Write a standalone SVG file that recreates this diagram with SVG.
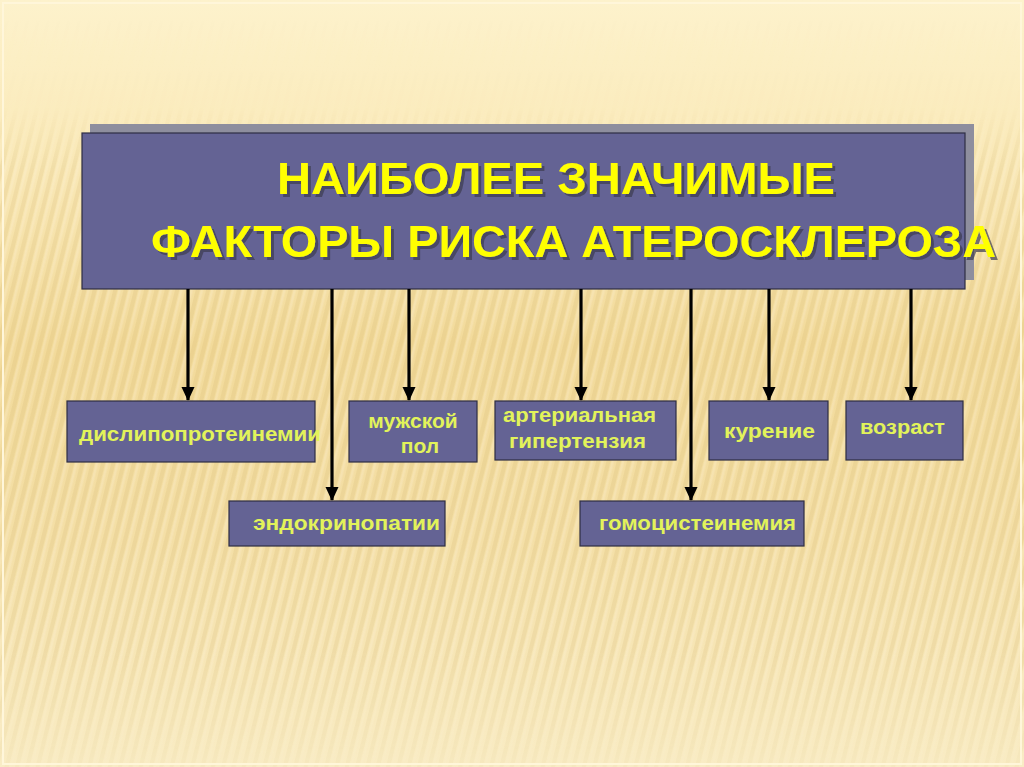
<svg xmlns="http://www.w3.org/2000/svg" width="1024" height="767" viewBox="0 0 1024 767">
<style>
.box{fill:#646394;stroke:#2e2e44;stroke-width:1.2}
.lbl{font-family:"Liberation Sans",Arial,sans-serif;font-weight:bold;font-size:21px;fill:#e2f35a}
.ttl{font-family:"Liberation Sans Narrow","Liberation Sans",Arial,sans-serif;font-weight:bold;font-size:44px;fill:#ffff00;filter:url(#ds)}
.conn line{stroke:#000;stroke-width:3.2}
</style>
<defs>
<filter id="ds" x="-5%" y="-20%" width="110%" height="150%">
<feDropShadow dx="3" dy="3" stdDeviation="0.5" flood-color="#3c3c50" flood-opacity="0.7"/>
</filter>
<linearGradient id="bg" x1="0" y1="0" x2="0" y2="1">
<stop offset="0" stop-color="#fdf2cc"/>
<stop offset="0.15" stop-color="#fbecbe"/>
<stop offset="0.45" stop-color="#f2da9a"/>
<stop offset="0.7" stop-color="#f4dfa6"/>
<stop offset="1" stop-color="#f9ecc4"/>
</linearGradient>
<linearGradient id="fade" x1="0" y1="0" x2="0" y2="1">
<stop offset="0" stop-color="#fff" stop-opacity="0"/>
<stop offset="0.14" stop-color="#fff" stop-opacity="0.05"/>
<stop offset="0.22" stop-color="#fff" stop-opacity="0.8"/>
<stop offset="0.85" stop-color="#fff" stop-opacity="0.8"/>
<stop offset="1" stop-color="#fff" stop-opacity="0.25"/>
</linearGradient>
<pattern id="stripes" width="10" height="10" patternUnits="userSpaceOnUse" patternTransform="rotate(14)">
<rect x="0" y="0" width="4" height="10" fill="#c9a85a" fill-opacity="0.18"/>
<rect x="5" y="0" width="2.5" height="10" fill="#fff8e0" fill-opacity="0.3"/>
</pattern>
<mask id="m"><rect width="1024" height="767" fill="url(#fade)"/></mask>
<marker id="ah" markerWidth="14" markerHeight="14" refX="13" refY="7" orient="auto" markerUnits="userSpaceOnUse" viewBox="0 0 14 14">
<path d="M0,0.5 L14,7 L0,13.5 Z" fill="#000"/>
</marker>
</defs>
<rect width="1024" height="767" fill="url(#bg)"/>
<rect width="1024" height="767" fill="url(#stripes)" mask="url(#m)"/>
<rect x="3" y="3" width="1018" height="761" fill="none" stroke="#fff6da" stroke-width="2"/>

<g id="title">
<rect x="90" y="124" width="884" height="156" fill="#8e8e9e"/>
<rect class="box" x="82" y="133" width="883" height="156"/>
<text class="ttl" x="556" y="194" text-anchor="middle" textLength="558" lengthAdjust="spacingAndGlyphs">НАИБОЛЕЕ  ЗНАЧИМЫЕ</text>
<text class="ttl" x="151" y="257" textLength="845" lengthAdjust="spacingAndGlyphs">ФАКТОРЫ  РИСКА АТЕРОСКЛЕРОЗА</text>
</g>

<g class="conn" id="connectors">
<line x1="188" y1="289" x2="188" y2="400" marker-end="url(#ah)"/>
<line x1="332" y1="289" x2="332" y2="500" marker-end="url(#ah)"/>
<line x1="409" y1="289" x2="409" y2="400" marker-end="url(#ah)"/>
<line x1="581" y1="289" x2="581" y2="400" marker-end="url(#ah)"/>
<line x1="691" y1="289" x2="691" y2="500" marker-end="url(#ah)"/>
<line x1="769" y1="289" x2="769" y2="400" marker-end="url(#ah)"/>
<line x1="911" y1="289" x2="911" y2="400" marker-end="url(#ah)"/>
</g>

<g id="n1">
<rect class="box" x="67" y="401" width="248" height="61"/>
<text class="lbl" x="79" y="441" textLength="242" lengthAdjust="spacingAndGlyphs">дислипопротеинемии</text>
</g>
<g id="n2">
<rect class="box" x="349" y="401" width="128" height="61"/>
<text class="lbl" x="413" y="428" text-anchor="middle">мужской</text>
<text class="lbl" x="420" y="453" text-anchor="middle">пол</text>
</g>
<g id="n3">
<rect class="box" x="495" y="401" width="181" height="59"/>
<text class="lbl" x="503" y="422" textLength="153" lengthAdjust="spacingAndGlyphs">артериальная</text>
<text class="lbl" x="509" y="448" textLength="137" lengthAdjust="spacingAndGlyphs">гипертензия</text>
</g>
<g id="n4">
<rect class="box" x="709" y="401" width="119" height="59"/>
<text class="lbl" x="724" y="438" textLength="91" lengthAdjust="spacingAndGlyphs">курение</text>
</g>
<g id="n5">
<rect class="box" x="846" y="401" width="117" height="59"/>
<text class="lbl" x="860" y="434" textLength="85" lengthAdjust="spacingAndGlyphs">возраст</text>
</g>
<g id="n6">
<rect class="box" x="229" y="501" width="216" height="45"/>
<text class="lbl" x="253" y="530" textLength="187" lengthAdjust="spacingAndGlyphs">эндокринопатии</text>
</g>
<g id="n7">
<rect class="box" x="580" y="501" width="224" height="45"/>
<text class="lbl" x="599" y="530" textLength="197" lengthAdjust="spacingAndGlyphs">гомоцистеинемия</text>
</g>
</svg>
